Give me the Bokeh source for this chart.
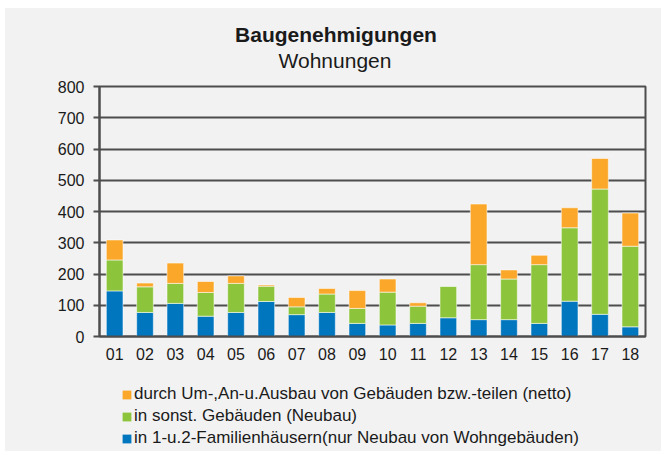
import numpy as np
from bokeh.plotting import figure
from bokeh.layouts import column, row
from bokeh.models import (ColumnDataSource, Range1d, FactorRange, Legend, LegendItem,
                          Label, FixedTicker, Spacer)
from bokeh.embed import file_html
from bokeh.resources import INLINE

# ---- data ----
months = ["01", "02", "03", "04", "05", "06", "07", "08", "09",
          "10", "11", "12", "13", "14", "15", "16", "17", "18"]
ein_zwei_fam = [146, 77, 106, 65, 77, 112, 70, 77, 42, 37, 42, 60, 54, 54, 42, 113, 71, 31]
sonst_geb = [99, 82, 64, 76, 93, 49, 25, 59, 48, 105, 55, 100, 176, 130, 188, 235, 401, 258]
umbau = [64, 12, 65, 35, 24, 4, 30, 18, 57, 42, 11, -5, 194, 29, 30, 64, 98, 106]
y_ticks = [0, 100, 200, 300, 400, 500, 600, 700, 800]

title_text = "Baugenehmigungen"
subtitle_text = "Wohnungen"
labels = {
    "blue": "in 1-u.2-Familienhäusern(nur Neubau von Wohngebäuden)",
    "green": "in sonst. Gebäuden (Neubau)",
    "orange": "durch Um-,An-u.Ausbau von Gebäuden bzw.-teilen (netto)",
}
colors = {"blue": "#0076BF", "green": "#8CC43C", "orange": "#FAA72A"}

FONT = "Liberation Sans"
BG = "#F2F2F2"
DARK = "#4D4D4D"
TXT = "#1A1A1A"
W = 656
BL, BR = 94, 16            # left / right borders -> frame from 94 to 640
FW = W - BL - BR           # frame width in px

# stacked bottoms/tops (positive values stack up, negative stack down)
series = [("blue", ein_zwei_fam), ("green", sonst_geb), ("orange", umbau)]
n = len(months)
pos = np.zeros(n)
neg = np.zeros(n)
data = {"x": months}
for key, vals in series:
    arr = np.array(vals, dtype=float)
    bottom = np.where(arr >= 0, pos, neg + arr)
    top = np.where(arr >= 0, pos + arr, neg)
    pos = pos + np.clip(arr, 0, None)
    neg = neg + np.clip(arr, None, 0)
    data[key + "_b"] = bottom
    data[key + "_t"] = top
source = ColumnDataSource(data)

def strip(height, x_range, y_range):
    f = figure(width=W, height=height, x_range=x_range, y_range=y_range,
               output_backend="svg", toolbar_location=None,
               x_axis_location=None, y_axis_location=None,
               min_border_left=BL, min_border_right=BR,
               min_border_top=0, min_border_bottom=0)
    f.background_fill_alpha = 0
    f.border_fill_alpha = 0
    f.outline_line_color = None
    f.grid.grid_line_color = None
    return f

# ---- title strip ----
TH = 68
tf = strip(TH, Range1d(0, FW), Range1d(0, TH))
tf.add_layout(Label(x=236.5, y=42, text=title_text, text_align="center",
                    text_baseline="middle", text_font=FONT, text_font_size="21px",
                    text_font_style="bold", text_color=TXT))
tf.add_layout(Label(x=235.5, y=16, text=subtitle_text, text_align="center",
                    text_baseline="middle", text_font=FONT, text_font_size="21px",
                    text_color=TXT))

# ---- main chart ----
p = figure(x_range=months, y_range=Range1d(0, 800),
           width=W, height=295, title=None,
           output_backend="svg", toolbar_location=None,
           min_border_left=BL, min_border_right=BR,
           min_border_top=10, min_border_bottom=35)

p.background_fill_color = BG
p.border_fill_color = BG
p.outline_line_color = DARK
p.outline_line_width = 2

bar_style = dict(line_color="white", line_alpha=0.55, line_width=1)
for key, _ in series:
    p.vbar(x="x", bottom=key + "_b", top=key + "_t", width=0.55,
           source=source, fill_color=colors[key], **bar_style)

p.xgrid.grid_line_color = None
p.ygrid.grid_line_color = DARK
p.ygrid.grid_line_width = 2
p.ygrid.ticker = FixedTicker(ticks=y_ticks)

p.yaxis.ticker = FixedTicker(ticks=y_ticks)
p.yaxis.axis_line_color = DARK
p.yaxis.axis_line_width = 2
p.yaxis.major_tick_line_color = DARK
p.yaxis.major_tick_line_width = 2
p.yaxis.major_tick_out = 6
p.yaxis.major_tick_in = 0
p.yaxis.minor_tick_line_color = None
p.yaxis.major_label_standoff = 9
p.yaxis.major_label_text_font = FONT
p.yaxis.major_label_text_font_size = "16px"
p.yaxis.major_label_text_color = TXT

p.xaxis.axis_line_color = DARK
p.xaxis.axis_line_width = 2
p.xaxis.major_tick_line_color = None
p.xaxis.major_tick_out = 0
p.xaxis.major_tick_in = 0
p.xaxis.minor_tick_line_color = None
p.xaxis.major_label_standoff = 11
p.xaxis.major_label_text_font = FONT
p.xaxis.major_label_text_font_size = "16px"
p.xaxis.major_label_text_color = TXT

# ---- legend strip (same series, far outside the view; only the legend shows) ----
lg = strip(80, FactorRange(*months), Range1d(50000, 60000))
keys = ["orange", "green", "blue"]
items = []
for key in keys:
    r = lg.vbar(x="x", bottom=key + "_b", top=key + "_t", width=0.55,
                source=source, fill_color=colors[key], line_color=None)
    items.append(LegendItem(label=labels[key], renderers=[r]))
legend = Legend(items=items, location=(22, 3), orientation="vertical",
                margin=0, padding=0, spacing=2,
                glyph_width=11, glyph_height=11, label_height=18, label_standoff=2,
                label_text_font=FONT, label_text_font_size="17px",
                label_text_color=TXT,
                background_fill_alpha=0, border_line_color=None)
lg.add_layout(legend)

chart = column(tf, p, lg, spacing=0, styles={"background-color": BG})
layout = column(Spacer(height=8),
                row(Spacer(width=5), chart, spacing=0),
                spacing=0)

open("out.html", "w").write(file_html(layout, INLINE))
